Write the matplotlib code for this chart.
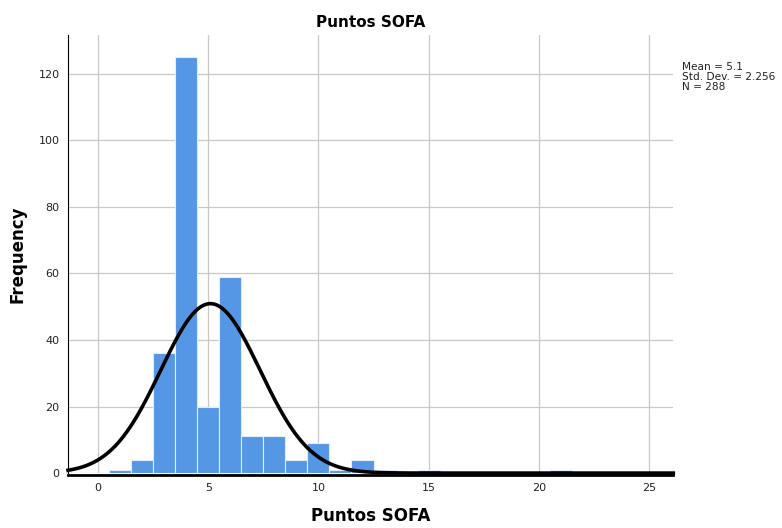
import numpy as np
import matplotlib.pyplot as plt

# SOFA score histogram (bin width 1, centred on integers)
scores = [1, 2, 3, 4, 5, 6, 7, 8, 9, 10, 11, 12, 13, 15, 21]
counts = [1, 4, 36, 125, 20, 59, 11, 11, 4, 9, 1, 4, 1, 1, 1]
mean_val = 5.1
std_val = 2.256
n_total = 288

bar_color = "#5596E5"

fig = plt.figure(figsize=(7.82, 5.28), dpi=100)
ax = fig.add_axes([0.087, 0.104, 0.774, 0.830])

ax.set_xlim(-1.36, 26.1)
ax.set_ylim(0, 131.7)

ax.bar(scores, counts, width=1.0, color=bar_color, edgecolor="#e4eefa",
       linewidth=0.8, zorder=2)

# fitted normal curve scaled to counts
xs = np.linspace(-1.36, 26.1, 500)
pdf = np.exp(-0.5 * ((xs - mean_val) / std_val) ** 2) / (std_val * np.sqrt(2 * np.pi))
ax.plot(xs, pdf * n_total * 1.0, color="black", lw=2.6, zorder=3, clip_on=False)

ax.set_xticks([0, 5, 10, 15, 20, 25])
ax.set_yticks([0, 20, 40, 60, 80, 100, 120])
ax.grid(True, color="#c8c8c8", lw=0.9, zorder=0)
ax.set_axisbelow(True)

for s in ["top", "right"]:
    ax.spines[s].set_visible(False)
ax.spines["left"].set_linewidth(0.8)
ax.spines["bottom"].set_linewidth(2.0)
ax.spines["bottom"].set_position(("outward", 1.2))
ax.tick_params(axis="both", length=0, labelsize=8, colors="#222222", pad=6)

ax.set_title("Puntos SOFA", fontsize=11, fontweight="bold", pad=6)
ax.set_xlabel("Puntos SOFA", fontsize=12, fontweight="bold", labelpad=10)
ax.set_ylabel("Frequency", fontsize=12, fontweight="bold", labelpad=9)

fig.text(0.872, 0.882,
         f"Mean = {mean_val}\nStd. Dev. = {std_val}\nN = {n_total}",
         fontsize=7.6, va="top", ha="left", linespacing=0.95, color="#222222")

fig.savefig("out.png", dpi=100)
